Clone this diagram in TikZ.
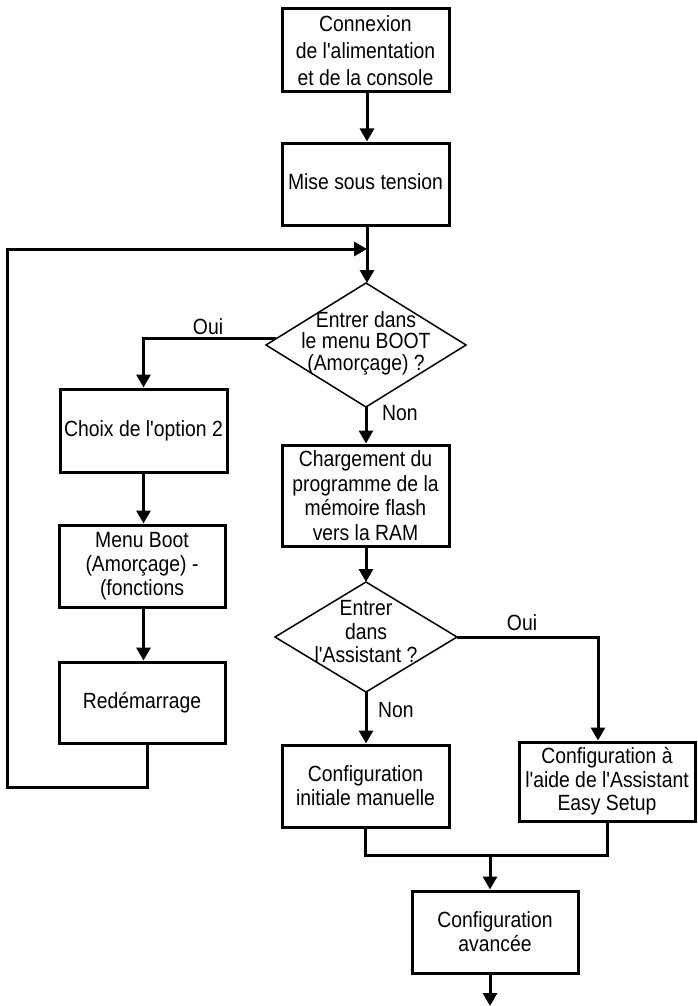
\documentclass[tikz,border=0pt]{standalone}
\usepackage{fontspec}
\setmainfont{Liberation Sans}[FakeStretch=0.88, Ligatures=TeXOff]
\usetikzlibrary{arrows.meta,shapes.geometric,positioning,calc}
\tikzset{
  box/.style={draw, line width=3pt, minimum width=#1, inner sep=0pt, align=center,
    font=\fontsize{22}{24}\selectfont},
  box/.default=167pt,
  dec/.style={draw, line width=1.5pt, shape=diamond, inner sep=0pt, outer sep=0pt},
  dectext/.style={inner sep=0pt, align=center},
  conn/.style={line width=3pt},
  arr/.style={line width=3pt, -{Triangle[width=14pt,length=13pt]}},
  lbl/.style={font=\fontsize{22}{24}\selectfont, inner sep=0pt},
}
\begin{document}
\begin{tikzpicture}[x=1pt,y=1pt]
\useasboundingbox (0,0) rectangle (698,-1006);
% nodes
\node[box, minimum height=83pt, font=\fontsize{22}{27}\selectfont] (b1) at (365.5,-50.5) {Connexion\\de l'alimentation\\et de la console};
\node[box, minimum height=82pt] (b2) at (365.5,-184) {\raisebox{4pt}{Mise sous tension}};
\node[dec, minimum width=200pt, minimum height=124pt] (d1) at (366,-345) {};
\node[dectext, font=\fontsize{22}{21.5}\selectfont] (d1t) at (366,-343) {Entrer dans\\le menu BOOT\\(Amorçage) ?};
\node[box, minimum height=83pt] (choix) at (143.5,-430.5) {\raisebox{3pt}{Choix de l'option 2}};
\node[box=166pt, minimum height=82pt] (menu) at (142,-566) {Menu Boot\\(Amorçage) -\\(fonctions};
\node[box=166pt, minimum height=81pt] (redem) at (142,-702.5) {Redémarrage};
\node[box, minimum height=101pt, font=\fontsize{22}{24.7}\selectfont] (charg) at (365.5,-495.5) {Chargement du\\programme de la\\mémoire flash\\vers la RAM};
\node[dec, minimum width=182pt, minimum height=110pt] (d2) at (366,-637) {};
\node[dectext, font=\fontsize{22}{23.5}\selectfont] (d2t) at (366,-632) {Entrer\\dans\\l'Assistant ?};
\node[box, minimum height=82pt] (manu) at (365.5,-786) {Configuration\\initiale manuelle};
\node[box=176pt, minimum height=79pt, font=\fontsize{22}{23.5}\selectfont] (easy) at (607,-781.5) {Configuration à\\l'aide de l'Assistant\\Easy Setup};
\node[box=166pt, minimum height=82pt] (avance) at (495,-932) {Configuration\\avancée};
% labels
\node[lbl] (oui1) at (208,-327) {Oui};
\node[lbl] (non1) at (400,-413) {Non};
\node[lbl] (oui2) at (522,-623) {Oui};
\node[lbl] (non2) at (396,-710) {Non};
% coordinates
\coordinate (j1) at (367,-249);
\coordinate (l1) at (147,-787);
\coordinate (l2) at (7,-787);
\coordinate (l3) at (7,-249);
\coordinate (j2) at (490,-855);
\coordinate (fin) at (490,-1006);
\coordinate (o1) at (276,-338);
% connectors
\draw[arr] (b1.south -| j1) -- (b2.north -| j1);
\draw[arr] (b2.south -| j1) -- (d1.north -| j1);
\draw[arr] (redem.south -| l1) -- (l1) -- (l2) -- (l3) -- (j1);
\draw[arr] (o1) -| (choix.north);
\draw[arr] (choix.south) -- (menu.north -| choix.south);
\draw[arr] (menu.south -| choix.south) -- (redem.north -| choix.south);
\draw[arr] (d1.south) -- (charg.north -| d1.south);
\draw[arr] (charg.south -| d2.north) -- (d2.north);
\draw[arr] (d2.east) -| ([xshift=-9pt]easy.north);
\draw[arr] (d2.south) -- (manu.north -| d2.south);
\draw[conn] (manu.south) |- (j2) -| (easy.south);
\draw[arr] (j2) -- (avance.north -| j2);
\draw[arr] (avance.south -| j2) -- (fin);
\end{tikzpicture}
\end{document}
